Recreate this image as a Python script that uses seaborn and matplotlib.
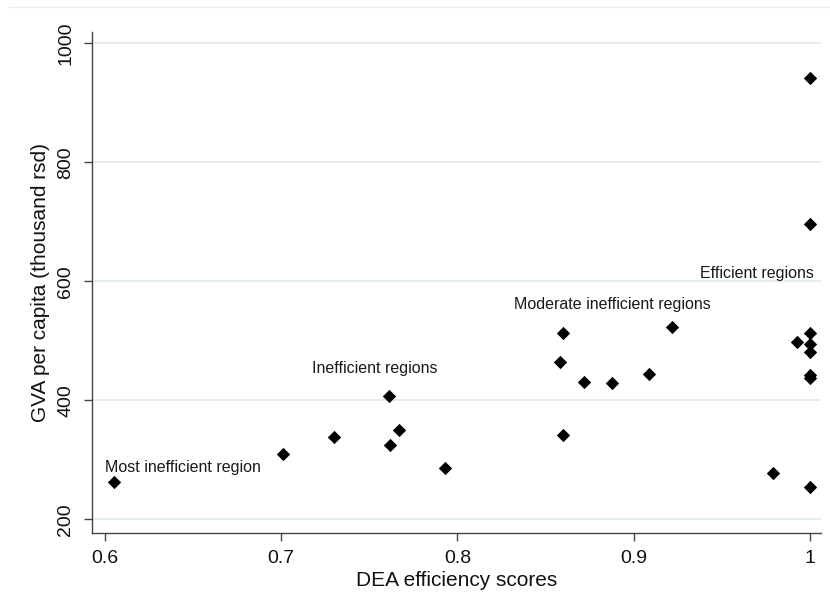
import matplotlib
matplotlib.use("Agg")
import matplotlib.pyplot as plt
from matplotlib.lines import Line2D
import seaborn as sns
import pandas as pd

# DEA efficiency scores and GVA per capita (thousand rsd)
dea_scores = [0.605, 0.701, 0.730, 0.761, 0.767, 0.762, 0.793,
              0.860, 0.858, 0.872, 0.888, 0.909, 0.922, 0.860,
              0.979, 1.000, 0.993, 1.000, 1.000, 1.000, 1.000, 1.000,
              1.000, 1.000]
gva_per_capita = [263, 310, 338, 408, 351, 325, 286,
                  513, 464, 431, 429, 444, 524, 342,
                  278, 254, 498, 513, 494, 481, 442, 437,
                  942, 696]

x_ticks = [0.6, 0.7, 0.8, 0.9, 1.0]
x_ticklabels = ["0.6", "0.7", "0.8", "0.9", "1"]
y_ticks = [200, 400, 600, 800, 1000]
y_ticklabels = ["200", "400", "600", "800", "1000"]

annotations = [
    ("Most inefficient region", 0.600, 288, "left"),
    ("Inefficient regions", 0.7173, 454, "left"),
    ("Moderate inefficient regions", 0.832, 561, "left"),
    ("Efficient regions", 1.0025, 614, "right"),
]

df = pd.DataFrame({"dea": dea_scores, "gva": gva_per_capita})

sns.set_theme(style="white")
plt.rcParams["font.family"] = ["Liberation Sans", "DejaVu Sans"]

fig = plt.figure(figsize=(8.3, 6.1), dpi=100)
ax = fig.add_axes([91.5 / 830, 1 - 532.7 / 610, (821 - 91.5) / 830, (532.7 - 31.7) / 610])

sns.scatterplot(data=df, x="dea", y="gva", marker="D", color="black",
                s=46, linewidth=0, ax=ax, zorder=3)

ax.set_xlim(0.5923, 1.0064)
ax.set_ylim(177.7, 1019.5)

ax.set_xticks(x_ticks)
ax.set_xticklabels(x_ticklabels)
ax.set_yticks(y_ticks)
ax.set_yticklabels(y_ticklabels, rotation=90, va="center", ha="right")

for y in y_ticks:
    ax.axhline(y, color="#E3ECF0", lw=1.3, zorder=1)

for side in ["top", "right"]:
    ax.spines[side].set_visible(False)
for side in ["left", "bottom"]:
    ax.spines[side].set_color("#444444")
    ax.spines[side].set_linewidth(1.0)

ax.tick_params(axis="both", which="major", direction="out", length=5.8, width=1.0,
               color="#444444", labelsize=14, labelcolor="#111111", pad=6.5,
               bottom=True, left=True)

ax.set_xlabel("DEA efficiency scores", fontsize=15, color="#111111", labelpad=3)
ax.set_ylabel("GVA per capita (thousand rsd)", fontsize=15, color="#111111", labelpad=5)

for text, xv, yv, ha in annotations:
    ax.text(xv, yv, text, ha=ha, va="center", fontsize=11.5, color="#1a1a1a", zorder=4)

fig.add_artist(Line2D([9 / 830, 1.0], [1 - 7.3 / 610, 1 - 7.3 / 610],
                      transform=fig.transFigure, color="#E8EFF2", lw=1.0))

fig.savefig("out.png", dpi=100, facecolor="white")
